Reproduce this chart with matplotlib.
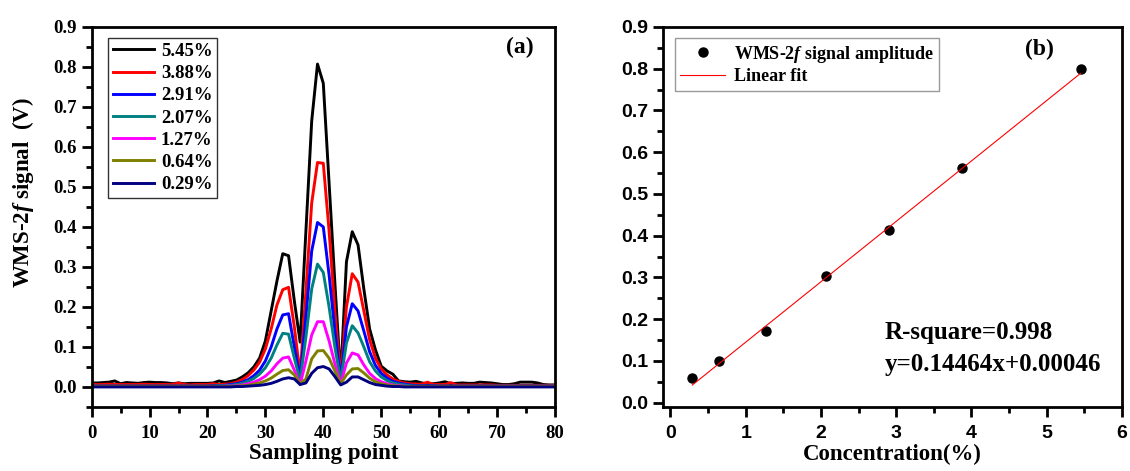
import matplotlib
matplotlib.use('Agg')
import matplotlib.pyplot as plt
import numpy as np
from matplotlib.ticker import MultipleLocator

plt.rcParams.update({'font.family': 'Liberation Serif', 'font.weight': 'bold',
                     'mathtext.fontset': 'custom',
                     'mathtext.it': 'Liberation Serif:italic:bold',
                     'mathtext.rm': 'Liberation Serif:bold'})

# panel (a): WMS-2f signal vs sampling point
conc_labels = ['5.45%', '3.88%', '2.91%', '2.07%', '1.27%', '0.64%', '0.29%']
colors = ['black', '#ff0000', '#0000ff', '#008080', '#ff00ff', '#808000', '#000080']
sampling = np.arange(0, 81)

s545 = [0.010, 0.010, 0.011, 0.012, 0.015, 0.008, 0.011, 0.010, 0.009, 0.011,
        0.012, 0.011, 0.011, 0.010, 0.008, 0.010, 0.008, 0.009, 0.009, 0.009,
        0.009, 0.010, 0.015, 0.011, 0.014, 0.017, 0.025, 0.035, 0.050, 0.072,
        0.115, 0.190, 0.265, 0.333, 0.328, 0.215, 0.112, 0.390, 0.665, 0.807,
        0.759, 0.510, 0.260, 0.022, 0.313, 0.388, 0.355, 0.245, 0.145, 0.093,
        0.052, 0.040, 0.032, 0.015, 0.013, 0.012, 0.014, 0.010, 0.008, 0.008,
        0.010, 0.013, 0.008, 0.009, 0.010, 0.009, 0.009, 0.012, 0.011, 0.010,
        0.008, 0.006, 0.006, 0.008, 0.012, 0.012, 0.012, 0.010, 0.006, 0.005,
        0.005]
s388 = [0.006, 0.006, 0.006, 0.007, 0.006, 0.006, 0.006, 0.006, 0.006, 0.007,
        0.006, 0.006, 0.006, 0.006, 0.006, 0.010, 0.006, 0.005, 0.006, 0.006,
        0.006, 0.008, 0.006, 0.007, 0.008, 0.012, 0.018, 0.028, 0.042, 0.062,
        0.095, 0.145, 0.205, 0.243, 0.249, 0.150, 0.030, 0.240, 0.460, 0.561,
        0.559, 0.390, 0.190, 0.022, 0.200, 0.283, 0.262, 0.190, 0.118, 0.072,
        0.045, 0.030, 0.020, 0.014, 0.010, 0.008, 0.007, 0.007, 0.012, 0.006,
        0.006, 0.006, 0.011, 0.005, 0.005, 0.005, 0.005, 0.005, 0.005, 0.005,
        0.004, 0.004, 0.004, 0.004, 0.004, 0.004, 0.004, 0.004, 0.004, 0.004,
        0.004]
s291 = [0.002, 0.002, 0.002, 0.002, 0.002, 0.002, 0.002, 0.002, 0.002, 0.002,
        0.002, 0.002, 0.002, 0.002, 0.002, 0.002, 0.002, 0.002, 0.002, 0.002,
        0.002, 0.003, 0.003, 0.004, 0.006, 0.008, 0.012, 0.018, 0.028, 0.042,
        0.065, 0.100, 0.145, 0.180, 0.183, 0.100, 0.022, 0.175, 0.340, 0.411,
        0.400, 0.280, 0.140, 0.018, 0.150, 0.208, 0.190, 0.140, 0.088, 0.054,
        0.034, 0.022, 0.014, 0.010, 0.007, 0.005, 0.003, 0.003, 0.003, 0.003,
        0.002, 0.002, 0.002, 0.002, 0.002, 0.002, 0.002, 0.002, 0.002, 0.002,
        0.002, 0.002, 0.002, 0.002, 0.002, 0.002, 0.002, 0.002, 0.002, 0.002,
        0.002]
s207 = [0.002, 0.002, 0.002, 0.002, 0.002, 0.002, 0.002, 0.002, 0.002, 0.002,
        0.002, 0.002, 0.002, 0.002, 0.002, 0.002, 0.002, 0.002, 0.002, 0.002,
        0.002, 0.002, 0.003, 0.003, 0.004, 0.006, 0.009, 0.014, 0.021, 0.032,
        0.048, 0.072, 0.105, 0.134, 0.132, 0.072, 0.016, 0.125, 0.245, 0.307,
        0.286, 0.200, 0.100, 0.015, 0.110, 0.153, 0.135, 0.100, 0.063, 0.040,
        0.025, 0.016, 0.010, 0.007, 0.005, 0.003, 0.002, 0.002, 0.002, 0.002,
        0.002, 0.002, 0.002, 0.002, 0.002, 0.002, 0.002, 0.002, 0.002, 0.002,
        0.002, 0.002, 0.002, 0.002, 0.002, 0.002, 0.002, 0.002, 0.002, 0.002,
        0.002]
s127 = [0.001, 0.001, 0.001, 0.001, 0.001, 0.001, 0.001, 0.001, 0.001, 0.001,
        0.001, 0.001, 0.001, 0.001, 0.001, 0.001, 0.001, 0.001, 0.001, 0.001,
        0.001, 0.001, 0.001, 0.002, 0.002, 0.003, 0.005, 0.008, 0.012, 0.018,
        0.027, 0.040, 0.058, 0.072, 0.075, 0.042, 0.006, 0.065, 0.130, 0.163,
        0.163, 0.115, 0.058, 0.008, 0.060, 0.085, 0.080, 0.055, 0.034, 0.021,
        0.013, 0.008, 0.005, 0.003, 0.002, 0.001, 0.001, 0.001, 0.001, 0.001,
        0.001, 0.001, 0.001, 0.001, 0.001, 0.001, 0.001, 0.001, 0.001, 0.001,
        0.001, 0.001, 0.001, 0.001, 0.001, 0.001, 0.001, 0.001, 0.001, 0.001,
        0.001]
s064 = [0.001, 0.001, 0.001, 0.001, 0.001, 0.001, 0.001, 0.001, 0.001, 0.001,
        0.001, 0.001, 0.001, 0.001, 0.001, 0.001, 0.001, 0.001, 0.001, 0.001,
        0.001, 0.001, 0.001, 0.001, 0.001, 0.002, 0.003, 0.004, 0.007, 0.010,
        0.015, 0.022, 0.032, 0.041, 0.043, 0.030, 0.008, 0.020, 0.070, 0.090,
        0.091, 0.072, 0.040, 0.008, 0.030, 0.045, 0.046, 0.035, 0.022, 0.013,
        0.008, 0.005, 0.003, 0.002, 0.001, 0.001, 0.001, 0.001, 0.001, 0.001,
        0.001, 0.001, 0.001, 0.001, 0.001, 0.001, 0.001, 0.001, 0.001, 0.001,
        0.001, 0.001, 0.001, 0.001, 0.001, 0.001, 0.001, 0.001, 0.001, 0.001,
        0.001]
s029 = [0.000, 0.000, 0.000, 0.000, 0.000, 0.000, 0.000, 0.000, 0.000, 0.000,
        0.000, 0.000, 0.000, 0.000, 0.000, 0.000, 0.000, 0.000, 0.000, 0.000,
        0.000, 0.000, 0.000, 0.000, 0.000, 0.001, 0.001, 0.002, 0.003, 0.004,
        0.006, 0.009, 0.014, 0.020, 0.023, 0.020, 0.006, 0.010, 0.034, 0.048,
        0.051, 0.045, 0.026, 0.005, 0.012, 0.025, 0.025, 0.018, 0.011, 0.006,
        0.004, 0.002, 0.001, 0.001, 0.000, 0.000, 0.000, 0.000, 0.000, 0.000,
        0.000, 0.000, 0.000, 0.000, 0.000, 0.000, 0.000, 0.000, 0.000, 0.000,
        0.000, 0.000, 0.000, 0.000, 0.000, 0.000, 0.000, 0.000, 0.000, 0.000,
        0.000]
signals = [s545, s388, s291, s207, s127, s064, s029]

# panel (b): amplitude vs concentration
conc = [0.29, 0.64, 1.27, 2.07, 2.91, 3.88, 5.45]
amp = [0.060, 0.100, 0.172, 0.303, 0.413, 0.563, 0.800]
slope = 0.14464
intercept = 0.00046

fig = plt.figure(figsize=(11.3, 4.71), dpi=100)
ax1 = fig.add_axes([0.0811, 0.136, 0.4100, 0.807])
ax2 = fig.add_axes([0.5867, 0.136, 0.4062, 0.807])

for ax in [ax1, ax2]:
    for sp in ax.spines.values():
        sp.set_linewidth(2)
    ax.tick_params(which='major', direction='out', length=7, width=2, top=False, right=False)
    ax.tick_params(which='minor', direction='out', length=4, width=2, top=False, right=False)
ax1.tick_params(axis='x', which='major', pad=6)
ax2.tick_params(axis='x', which='major', pad=6)

for y, c, lab in zip(signals, colors, conc_labels):
    ax1.plot(sampling, y, color=c, lw=2.1, label=lab)
ax1.set_xlim(0, 80)
ax1.set_ylim(-0.05, 0.9)
ax1.xaxis.set_major_locator(MultipleLocator(10))
ax1.xaxis.set_minor_locator(MultipleLocator(5))
ax1.yaxis.set_minor_locator(MultipleLocator(0.05))
ax1.set_yticks(np.arange(0, 0.91, 0.1))
ax1.set_yticklabels(['%.1f' % v for v in np.arange(0, 0.91, 0.1)])
for t in ax1.get_xticklabels() + ax1.get_yticklabels():
    t.set_fontsize(13.5)
    t.set_fontweight('bold')
ax1.set_xlabel('Sampling point', fontsize=16.5, fontweight='bold', labelpad=1)
ax1.set_ylabel(r'WMS-2$\mathit{f}$ signal  (V)', fontsize=16.5, fontweight='bold')
ax1.yaxis.set_label_coords(-0.12, 0.565)
leg = ax1.legend(loc='upper left', bbox_to_anchor=(0.036, 0.97), fontsize=13.5, frameon=True,
                 fancybox=False, edgecolor='black', handlelength=2.2, labelspacing=0.27,
                 borderpad=0.25, handletextpad=0.35, borderaxespad=0)
leg.get_frame().set_linewidth(1)
for t in leg.get_texts():
    t.set_fontweight('bold')
ax1.text(0.925, 0.945, '(a)', transform=ax1.transAxes, fontsize=17, fontweight='bold', ha='center', va='center')

ax2.plot(conc, amp, 'o', color='black', ms=6.5, label='WMS-2$\\mathit{f}$ signal amplitude')
xf = np.array([conc[0], conc[-1]])
ax2.plot(xf, slope * xf + intercept, color='#ff0000', lw=0.8, label='Linear fit')
ax2.set_xlim(-0.1, 6)
ax2.set_ylim(-0.01, 0.9)
ax2.xaxis.set_major_locator(MultipleLocator(1))
ax2.xaxis.set_minor_locator(MultipleLocator(0.5))
ax2.yaxis.set_minor_locator(MultipleLocator(0.05))
ax2.set_yticks(np.arange(0, 0.91, 0.1))
ax2.set_yticklabels(['%.1f' % v for v in np.arange(0, 0.91, 0.1)])
for t in ax2.get_xticklabels() + ax2.get_yticklabels():
    t.set_fontsize(14)
    t.set_fontweight('bold')
    t.set_family('Liberation Sans')
ax2.set_xlabel('Concentration(%)', fontsize=16.5, fontweight='bold', labelpad=1)
leg2 = ax2.legend(loc='upper left', bbox_to_anchor=(0.026, 0.97), fontsize=13, frameon=True,
                  fancybox=False, edgecolor='gray', handlelength=2.5, borderpad=0.3,
                  labelspacing=0.2, handletextpad=0.5, borderaxespad=0)
for t in leg2.get_texts():
    t.set_fontweight('bold')
ax2.text(0.82, 0.94, '(b)', transform=ax2.transAxes, fontsize=17, fontweight='bold', ha='center', va='center')
ax2.text(2.85, 0.168, 'R-square=0.998', fontsize=18, fontweight='bold', ha='left', va='center')
ax2.text(2.85, 0.091, 'y=0.14464x+0.00046', fontsize=18, fontweight='bold', ha='left', va='center')

fig.savefig('out.png', dpi=100)
